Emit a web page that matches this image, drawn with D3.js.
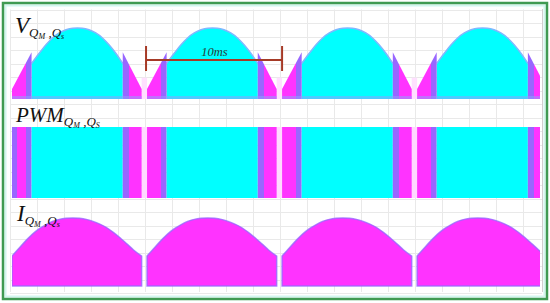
<!DOCTYPE html>
<html>
<head>
<meta charset="utf-8">
<script src="https://cdn.jsdelivr.net/npm/d3@7"></script>
<style>
  html, body { margin: 0; padding: 0; background: #fff; }
  svg { display: block; }
  .lbl { font-family: "Liberation Serif", "DejaVu Serif", serif; font-style: italic; fill: #111; }
</style>
</head>
<body>
<svg id="chart"></svg>
<script>
// waveforms over 4 periods of 10 ms
var periodStart = [0, 10, 20, 30];          // ms
var rampL = [0, 1.45];                       // switching interval before the hump (ms)
var rampR = [8.2, 9.6];                      // switching interval after the hump (ms)
var rampLow = 0.14, rampHigh = 0.66;         // V level at ramp ends (p.u.)

// V_QM,QS hump (ms inside a period, p.u.)
var humpT = [1.45, 2.0, 2.5, 3.0, 3.5, 4.0, 4.5, 4.85, 5.2, 5.7, 6.2, 6.7, 7.2, 7.7, 8.2];
var humpV = [0.50, 0.64, 0.76, 0.86, 0.93, 0.975, 0.997, 1.0, 0.997, 0.975, 0.93, 0.86, 0.76, 0.64, 0.50];

// I_QM,QS hump (ms inside a period, p.u.)
var curT = [0, 0.5, 1.0, 1.5, 2.0, 2.5, 3.0, 3.5, 4.0, 4.5, 5.0, 5.5, 6.0, 6.5, 7.0, 7.5, 8.0, 8.5, 9.0, 9.6];
var curV = [0.44, 0.55, 0.66, 0.76, 0.84, 0.90, 0.95, 0.98, 0.995, 1.0, 0.995, 0.98, 0.95, 0.91, 0.86, 0.79, 0.71, 0.62, 0.53, 0.44];

var W = 550, H = 303;
var cCyan = '#00ffff', cMag = '#ff33ff', cPur = '#9966ff';

var svg = d3.select('#chart').attr('width', W).attr('height', H);
var defs = svg.append('defs');

var x = d3.scaleLinear().domain([0, 39.1]).range([12, 540]);
var yV = d3.scaleLinear().domain([0, 1]).range([99, 28]);
var yP = d3.scaleLinear().domain([0, 1]).range([198, 127]);
var yI = d3.scaleLinear().domain([0, 1]).range([286, 218]);

defs.append('clipPath').attr('id', 'plotClip')
  .append('rect').attr('x', 12).attr('y', 0).attr('width', 528).attr('height', H);

// magenta/purple fill for the switching intervals
function grad(id, stops) {
  var g = defs.append('linearGradient').attr('id', id)
    .attr('x1', 0).attr('x2', 1).attr('y1', 0).attr('y2', 0);
  stops.forEach(function (s) {
    g.append('stop').attr('offset', s[0]).attr('stop-color', s[1]);
  });
}
grad('gL', [[0, cMag], [0.69, cMag], [0.69, cPur], [1, cPur]]);
grad('gR', [[0, cPur], [0.32, cPur], [0.32, cMag], [1, cMag]]);

// grid
var grid = svg.append('g').attr('stroke', '#e9e9e9').attr('stroke-width', 1);
d3.range(10, 530, 27).forEach(function (gx) {
  grid.append('line').attr('x1', gx + 0.5).attr('x2', gx + 0.5).attr('y1', 9.5).attr('y2', 292);
});
d3.range(9.5, 295, 13.5).forEach(function (gy) {
  grid.append('line').attr('x1', 10).attr('x2', 542).attr('y1', Math.round(gy) + 0.5).attr('y2', Math.round(gy) + 0.5);
});
svg.append('line').attr('x1', 542.5).attr('x2', 542.5).attr('y1', 9).attr('y2', 292)
  .attr('stroke', '#cfcfcf');

var plot = svg.append('g').attr('clip-path', 'url(#plotClip)');

var humpPts = humpT.map(function (t, i) { return [t, humpV[i]]; });
var curPts = curT.map(function (t, i) { return [t, curV[i]]; });

periodStart.forEach(function (s) {
  var xs = function (t) { return x(s + t); };

  // ---- V panel
  plot.append('rect').attr('x', xs(rampR[1])).attr('width', xs(10) - xs(rampR[1]))
    .attr('y', yV(0.3)).attr('height', yV(0) - yV(0.3)).attr('fill', '#ffe0ff');
  var areaV = d3.area().x(function (d) { return xs(d[0]); })
    .y0(yV(0)).y1(function (d) { return yV(d[1]); }).curve(d3.curveMonotoneX);
  plot.append('path').datum(humpPts).attr('d', areaV).attr('fill', cCyan);
  plot.append('path').datum(humpPts)
    .attr('d', d3.line().x(function (d) { return xs(d[0]); }).y(function (d) { return yV(d[1]); }).curve(d3.curveMonotoneX))
    .attr('fill', 'none').attr('stroke', '#7fb8ff').attr('stroke-width', 1.5);
  var rl = [[rampL[0], 0], [rampL[0], rampLow], [rampL[1], rampHigh], [rampL[1], 0]];
  var rr = [[rampR[0], 0], [rampR[0], rampHigh], [rampR[1], rampLow], [rampR[1], 0]];
  var poly = d3.line().x(function (d) { return xs(d[0]); }).y(function (d) { return yV(d[1]); });
  plot.append('path').attr('d', poly(rl) + 'Z').attr('fill', 'url(#gL)');
  plot.append('path').attr('d', poly(rr) + 'Z').attr('fill', 'url(#gR)');
  plot.append('rect').attr('x', xs(0)).attr('width', xs(rampR[1]) - xs(0))
    .attr('y', yV(0) - 3).attr('height', 3).attr('fill', '#8f9fff').attr('opacity', 0.55);

  // ---- PWM panel
  plot.append('rect').attr('x', xs(rampR[1])).attr('width', xs(10) - xs(rampR[1]))
    .attr('y', yP(1)).attr('height', yP(0) - yP(1)).attr('fill', '#ffd9ff');
  plot.append('rect').attr('x', xs(rampL[0])).attr('width', xs(rampL[1]) - xs(rampL[0]))
    .attr('y', yP(1)).attr('height', yP(0) - yP(1)).attr('fill', 'url(#gL)');
  plot.append('rect').attr('x', xs(rampL[1])).attr('width', xs(rampR[0]) - xs(rampL[1]))
    .attr('y', yP(1)).attr('height', yP(0) - yP(1)).attr('fill', cCyan);
  plot.append('rect').attr('x', xs(rampR[0])).attr('width', xs(rampR[1]) - xs(rampR[0]))
    .attr('y', yP(1)).attr('height', yP(0) - yP(1)).attr('fill', 'url(#gR)');

  // ---- I panel
  var areaI = d3.area().x(function (d) { return xs(d[0]); })
    .y0(yI(0)).y1(function (d) { return yI(d[1]); }).curve(d3.curveMonotoneX);
  plot.append('path').datum(curPts).attr('d', areaI).attr('fill', cMag)
    .attr('stroke', cPur).attr('stroke-width', 1.5).attr('stroke-opacity', 0.8);
});

// first-period purple edge in the PWM trace
plot.append('rect').attr('x', x(0)).attr('width', x(0.37) - x(0))
  .attr('y', yP(1)).attr('height', yP(0) - yP(1)).attr('fill', cPur);

// 10 ms dimension
var dim = svg.append('g').attr('stroke', '#a63a26').attr('stroke-width', 2);
dim.append('line').attr('x1', x(10) - 1).attr('x2', x(20)).attr('y1', 60).attr('y2', 60);
dim.append('line').attr('x1', x(10) - 1).attr('x2', x(10) - 1).attr('y1', 46).attr('y2', 71);
dim.append('line').attr('x1', x(20)).attr('x2', x(20)).attr('y1', 46).attr('y2', 71);
svg.append('text').attr('class', 'lbl').attr('x', (x(10) + x(20)) / 2).attr('y', 56)
  .attr('text-anchor', 'middle').attr('font-size', 12.5).style('fill', '#253f3a').text('10ms');

// labels
function label(px, py, main, size, subA, subB) {
  var t = svg.append('text').attr('class', 'lbl').attr('x', px).attr('y', py).attr('font-size', size);
  t.append('tspan').text(main);
  t.append('tspan').attr('font-size', 13).attr('dy', 4).text('Q');
  t.append('tspan').attr('font-size', 8).attr('dy', 2).text(subA);
  t.append('tspan').attr('font-size', 13).attr('dy', -2).text(' ,');
  t.append('tspan').attr('font-size', 13).text('Q');
  t.append('tspan').attr('font-size', 8).attr('dy', 2).text(subB);
}
label(15, 33, 'V', 23, 'M', 's');
label(16, 122, 'PWM', 21, 'M', 'S');
label(17, 221, 'I', 23, 'M', 's');

// frame
svg.append('rect').attr('x', 5.5).attr('y', 5.5).attr('width', 539).attr('height', 291)
  .attr('fill', 'none').attr('stroke', '#d2f6ef').attr('stroke-width', 2);
svg.append('rect').attr('x', 3).attr('y', 3).attr('width', 544).attr('height', 296)
  .attr('fill', 'none').attr('stroke', '#3f9a52').attr('stroke-width', 2.5);
</script>
</body>
</html>
